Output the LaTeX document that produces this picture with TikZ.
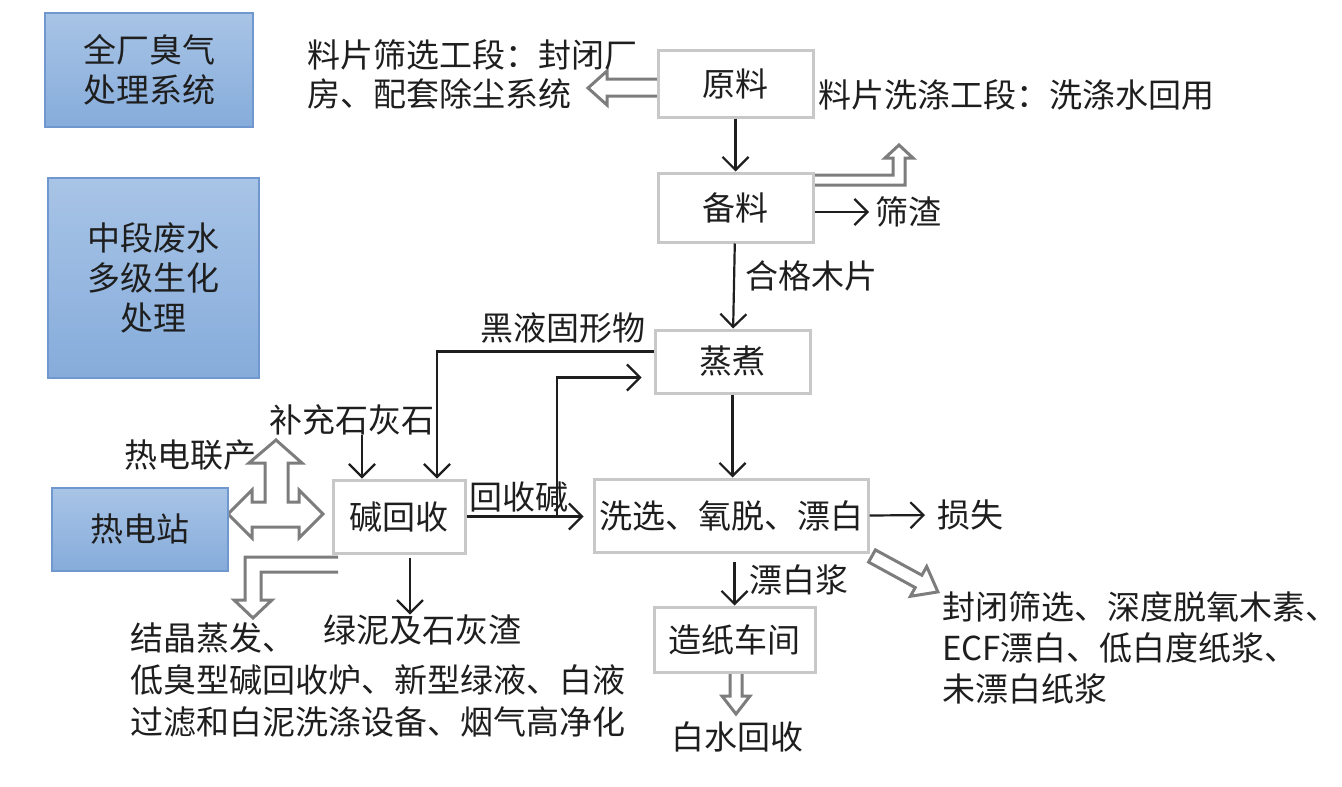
\documentclass[tikz,border=0pt]{standalone}
\usepackage{fontspec}
\setmainfont{Noto Sans CJK SC}
\usepackage{tikz}
\usetikzlibrary{arrows.meta}
\definecolor{boxgray}{RGB}{200,200,200}
\definecolor{hollowgray}{RGB}{125,125,125}
\definecolor{ink}{RGB}{30,30,30}
\definecolor{bluetop}{RGB}{168,196,230}
\definecolor{bluebot}{RGB}{134,172,219}
\definecolor{blueline}{RGB}{112,152,206}

\begin{document}
\begin{tikzpicture}[x=1pt,y=-1pt,
  font=\fontsize{33}{40}\selectfont, text=ink,
  box/.style={draw=boxgray,line width=3pt,inner sep=0pt},
  bluebox/.style={draw=blueline,line width=2pt,top color=bluetop,bottom color=bluebot,inner sep=0pt,align=center},
  arr/.style={draw=ink,line width=2.2pt,-{Straight Barb[length=13pt,width=26pt]}},
  hollow/.style={draw=hollowgray,line width=3pt,fill=white,line join=miter},
  lbl/.style={inner sep=0pt}]
\useasboundingbox (0,0) rectangle (1342,787);

% hollow arrows
\draw[hollow] (658,79) -- (607,79) -- (607,71) -- (588,88) -- (607,105) -- (607,96) -- (658,96);
\draw[hollow] (814,175) -- (893,175) -- (893,158) -- (885,158) -- (899,145) -- (913,158) -- (905,158) -- (905,185) -- (814,185);
\draw[hollow] (228,514) -- (252,490) -- (252,502) -- (265,502) -- (265,463) -- (249,463) -- (276,440)
  -- (302,463) -- (288,463) -- (288,502) -- (299,502) -- (299,490) -- (323,514) -- (299,538)
  -- (299,527) -- (252,527) -- (252,538) -- cycle;
\draw[hollow] (338,557) -- (245,557) -- (245,600) -- (234,600) -- (253,618) -- (272,600) -- (261,600) -- (261,572) -- (338,572);
\draw[hollow] (875.4,549.9) -- (921.9,575.2) -- (926.7,566.5) -- (937.9,591.9) -- (910.4,596.3) -- (915.2,587.6) -- (868.6,562.1) -- cycle;
\draw[hollow] (730,672) -- (730,696) -- (722,696) -- (736,714) -- (750,696) -- (742,696) -- (742,672);

% blue boxes
\node[bluebox,minimum width=208,minimum height=114] (gas) at (149,70) {全厂臭气\\处理系统};
\node[bluebox,minimum width=211,minimum height=200] (water) at (153.5,278) {中段废水\\多级生化\\处理};
\node[bluebox,minimum width=176,minimum height=83] (power) at (139.5,529.5) {热电站};

% process boxes
\node[box,minimum width=155,minimum height=67] (raw) at (735.5,83.5) {原料};
\node[box,minimum width=155,minimum height=69] (prep) at (735.5,207.5) {备料};
\node[box,minimum width=155,minimum height=63] (cook) at (732.5,361.5) {蒸煮};
\node[box,minimum width=132,minimum height=73] (recov) at (399,516.5) {碱回收};
\node[box,minimum width=274,minimum height=73] (wash) at (731,515.5) {洗选、氧脱、漂白};
\node[box,minimum width=161,minimum height=65] (paper) at (734.5,639.5) {造纸车间};

% labels
\node[lbl,anchor=west,align=left,font=\fontsize{33}{39}\selectfont] (screen) at (307,74.5) {料片筛选工段：封闭厂\\房、配套除尘系统};
\node[lbl,anchor=west] (rinse) at (818,95) {料片洗涤工段：洗涤水回用};
\node[lbl,anchor=west] (slag) at (875,212) {筛渣};
\node[lbl] (liquor) at (563,328) {黑液固形物};
\node[lbl] (lime) at (352,420) {补充石灰石};
\node[lbl] (chp) at (190,455) {热电联产};
\node[lbl] (alkali) at (519,497) {回收碱};
\node[lbl,anchor=west] (loss) at (937,515) {损失};
\node[lbl] (mud) at (422,630) {绿泥及石灰渣};
\node[lbl,anchor=west,align=left,font=\fontsize{33}{42}\selectfont] (evap) at (130,680) {结晶蒸发、\\低臭型碱回收炉、新型绿液、白液\\过滤和白泥洗涤设备、烟气高净化};
\node[lbl,anchor=west,align=left,font=\fontsize{33}{41}\selectfont] (closed) at (942,648) {封闭筛选、深度脱氧木素、\\ECF漂白、低白度纸浆、\\未漂白纸浆};
\node[lbl] (white) at (737,737) {白水回收};

% connectors
\draw[arr] (raw) -- (prep);
\draw[arr] (prep) -- node[lbl,right=10pt,pos=0.38] {合格木片} (cook);
\draw[arr,shorten >=6pt] ([yshift=-4.5pt]prep.east) -- (slag.west);
\draw[arr] (cook.south) -- (cook.south |- wash.north);
\draw[arr] ([yshift=10pt]cook.west) -| ([xshift=38pt]recov.north);
\draw[arr,shorten >=9pt] (recov.east) -- (recov.east -| wash.west);
\coordinate (j) at (557,516.5);
\draw[arr,shorten >=12pt] (j) |- ([yshift=-16pt]cook.west);
\draw[arr] ([xshift=10pt]lime.south) -- ([xshift=-37pt]recov.north);
\draw[arr] ([yshift=-3pt]recov.south -| mud.north) ++(-12,0) -- ([xshift=-12pt]mud.north);
\draw[arr,shorten >=12pt] (wash.east) -- (loss.west);
\draw[arr,shorten <=8pt] (wash.south -| paper.north) -- node[lbl,right=14pt] {漂白浆} (paper.north);
\end{tikzpicture}
\end{document}
